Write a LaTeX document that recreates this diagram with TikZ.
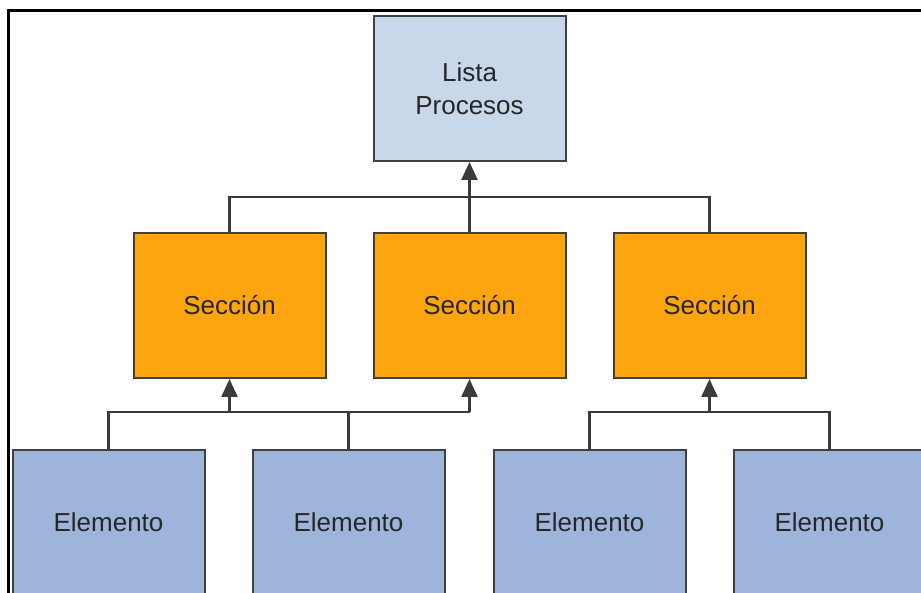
\documentclass[tikz,border=0pt]{standalone}
\usepackage{fontspec}
\setmainfont{Liberation Sans}
\usetikzlibrary{arrows.meta}
\definecolor{topfill}{HTML}{C9D7EB}
\definecolor{secfill}{HTML}{FDA50F}
\definecolor{elfill}{HTML}{9FB4DA}
\definecolor{edge}{HTML}{404040}
\begin{document}
\begin{tikzpicture}[x=1pt,y=-1pt,
  box/.style={draw=edge,line width=2pt,minimum width=192pt,minimum height=145pt,inner sep=0pt,anchor=north west,align=center,font=\fontsize{26}{33}\selectfont,text=black!85},
  conn/.style={draw=edge!90!black,line width=2.5pt},
  arr/.style={conn,-{Triangle[length=18pt,width=16pt]}}]
\useasboundingbox (0,0) rectangle (921,593);
\draw[line width=3pt] (8,600) -- (8,10.5) -- (925,10.5);
\node[box,fill=topfill] (lista) at (372.5,15) {Lista\\Procesos};
\node[box,fill=secfill] (s1) at (132.5,232) {Sección};
\node[box,fill=secfill] (s2) at (372.5,232) {Sección};
\node[box,fill=secfill] (s3) at (612.5,232) {Sección};
\node[box,fill=elfill] (e1) at (11.5,449) {Elemento};
\node[box,fill=elfill] (e2) at (251.5,449) {Elemento};
\node[box,fill=elfill] (e3) at (492.5,449) {Elemento};
\node[box,fill=elfill] (e4) at (732.5,449) {Elemento};
% top tier
\coordinate (t1) at (s1.north |- 0,197);
\coordinate (t3) at (s3.north |- 0,197);
\draw[conn] (s1.north) -- (t1) -- (t3) -- (s3.north);
\draw[arr] (s2.north) -- (lista.south);
% lower tier left
\coordinate (b1) at (e1.north |- 0,412);
\coordinate (b2) at (s2.south |- 0,412);
\draw[conn] (e1.north) -- (b1) -- (b2);
\draw[conn] (e2.north) -- (e2.north |- 0,412);
\draw[arr] (s1.south |- 0,412) -- (s1.south);
\draw[arr] (b2) -- (s2.south);
% lower tier right
\coordinate (b3) at (e3.north |- 0,412);
\coordinate (b4) at (e4.north |- 0,412);
\draw[conn] (e3.north) -- (b3) -- (b4) -- (e4.north);
\draw[arr] (s3.south |- 0,412) -- (s3.south);
\end{tikzpicture}
\end{document}
